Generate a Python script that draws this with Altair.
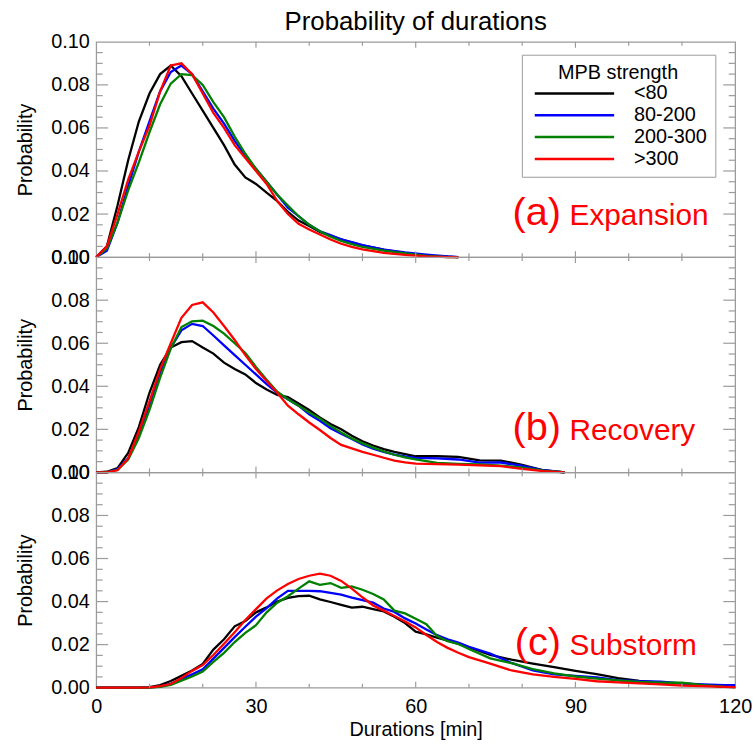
import altair as alt
import pandas as pd

FONT = "Liberation Sans"
FRAME = "#9b9b9b"
RED = "#ff0000"

# MPB strength classes and their line colours
series_names = ["<80", "80-200", "200-300", ">300"]
series_colors = ["#000000", "#0000ff", "#008000", "#ff0000"]

# ---------------- (a) Expansion ----------------
minutes_a = [0, 2, 4, 6, 8, 10, 12, 14, 16, 18, 20, 22, 24, 26, 28, 30, 32, 34, 36, 38,
             40, 42, 44, 46, 48, 50, 54, 58, 62, 66, 68]
exp_lt80 = [0.0, 0.005, 0.024, 0.045, 0.063, 0.076, 0.085, 0.089, 0.084, 0.076, 0.068,
            0.060, 0.052, 0.043, 0.037, 0.034, 0.030, 0.026, 0.021, 0.017, 0.0145,
            0.0117, 0.0098, 0.0083, 0.0068, 0.0055, 0.0035, 0.0018, 0.0006, 0.0002, 0.0]
exp_80_200 = [0.0, 0.003, 0.016, 0.033, 0.049, 0.063, 0.077, 0.086, 0.089, 0.085, 0.077,
              0.069, 0.062, 0.054, 0.047, 0.041, 0.035, 0.029, 0.023, 0.019, 0.015,
              0.012, 0.0102, 0.0083, 0.007, 0.0056, 0.0035, 0.0022, 0.0012, 0.0003, 0.0]
exp_200_300 = [0.0, 0.004, 0.016, 0.031, 0.044, 0.058, 0.071, 0.0806, 0.085, 0.0845, 0.080,
               0.072, 0.065, 0.056, 0.048, 0.041, 0.035, 0.029, 0.024, 0.019, 0.015,
               0.012, 0.0095, 0.0075, 0.006, 0.0047, 0.003, 0.0017, 0.0006, 0.0, 0.0]
exp_gt300 = [0.0, 0.005, 0.020, 0.036, 0.049, 0.061, 0.077, 0.089, 0.090, 0.085, 0.076,
             0.067, 0.060, 0.052, 0.046, 0.040, 0.034, 0.026, 0.020, 0.0155, 0.0128,
             0.0105, 0.0082, 0.0062, 0.0048, 0.0036, 0.002, 0.001, 0.0003, 0.0, 0.0]

# ---------------- (b) Recovery ----------------
minutes_b = [0, 2, 4, 6, 8, 10, 12, 14, 16, 18, 20, 22, 24, 26, 28, 30, 32, 34, 36, 38,
             40, 42, 44, 46, 48, 50, 52, 54, 56, 58, 60, 64, 68, 72, 76, 80, 84, 88]
rec_lt80 = [0.0, 0.0003, 0.002, 0.009, 0.021, 0.037, 0.050, 0.058, 0.0605, 0.061, 0.058,
            0.0552, 0.051, 0.048, 0.0455, 0.0415, 0.0385, 0.036, 0.035, 0.032, 0.029,
            0.0255, 0.0225, 0.020, 0.017, 0.0145, 0.0125, 0.0108, 0.0095, 0.0085, 0.0075,
            0.0075, 0.0072, 0.0056, 0.0055, 0.0035, 0.001, 0.0]
rec_80_200 = [0.0, 0.0, 0.0015, 0.0065, 0.017, 0.031, 0.046, 0.058, 0.066, 0.069, 0.068,
              0.0636, 0.059, 0.0545, 0.050, 0.0455, 0.041, 0.037, 0.034, 0.031, 0.027,
              0.024, 0.0205, 0.018, 0.0155, 0.013, 0.011, 0.0095, 0.0083, 0.0074, 0.0067,
              0.0065, 0.006, 0.0045, 0.0046, 0.003, 0.001, 0.0]
rec_200_300 = [0.0, 0.0, 0.0012, 0.006, 0.016, 0.029, 0.044, 0.0575, 0.0675, 0.0702, 0.0705,
               0.068, 0.0645, 0.060, 0.0555, 0.049, 0.043, 0.0375, 0.034, 0.031, 0.0278,
               0.025, 0.0215, 0.0185, 0.0158, 0.0135, 0.0115, 0.0097, 0.0082, 0.007, 0.006,
               0.0044, 0.004, 0.0037, 0.0032, 0.0022, 0.0008, 0.0]
rec_gt300 = [0.0, 0.0, 0.001, 0.0065, 0.019, 0.033, 0.048, 0.060, 0.0718, 0.0778, 0.079,
             0.0743, 0.068, 0.0615, 0.0545, 0.048, 0.0425, 0.037, 0.031, 0.027, 0.0232,
             0.0197, 0.016, 0.0128, 0.0112, 0.0095, 0.0082, 0.0068, 0.0055, 0.0047, 0.0041,
             0.0038, 0.0036, 0.0033, 0.0029, 0.0016, 0.0006, 0.0]

# ---------------- (c) Substorm ----------------
minutes_c = [0, 4, 8, 10, 12, 14, 16, 18, 20, 22, 24, 26, 28, 30, 32, 34, 36, 38, 40, 42,
             44, 46, 48, 50, 52, 54, 56, 58, 60, 62, 64, 66, 68, 70, 74, 78, 82, 86, 90,
             94, 98, 102, 106, 110, 114, 118, 120]
sub_lt80 = [0.0, 0.0, 0.0, 0.0003, 0.0012, 0.0031, 0.0055, 0.008, 0.011, 0.0177, 0.0225,
            0.0285, 0.031, 0.035, 0.0373, 0.040, 0.0417, 0.0425, 0.0427, 0.041, 0.0398,
            0.0385, 0.0372, 0.0376, 0.0365, 0.0354, 0.033, 0.030, 0.026, 0.0248, 0.0232,
            0.0218, 0.0203, 0.0188, 0.0152, 0.013, 0.0112, 0.0095, 0.0078, 0.0063, 0.0045,
            0.0032, 0.0023, 0.002, 0.0012, 0.0005, 0.0003]
sub_80_200 = [0.0, 0.0, 0.0, 0.0001, 0.0005, 0.0018, 0.004, 0.0062, 0.0085, 0.0135, 0.0185,
              0.0235, 0.0283, 0.033, 0.037, 0.0415, 0.045, 0.045, 0.045, 0.0448, 0.044,
              0.0432, 0.0418, 0.0407, 0.0395, 0.0368, 0.0352, 0.0322, 0.0298, 0.027, 0.0244,
              0.0225, 0.021, 0.019, 0.0158, 0.0115, 0.008, 0.0062, 0.0055, 0.0048, 0.0035,
              0.003, 0.0028, 0.002, 0.0015, 0.0012, 0.0012]
sub_200_300 = [0.0, 0.0, 0.0, 0.0, 0.0004, 0.0013, 0.0032, 0.0052, 0.0075, 0.012, 0.0162,
               0.0212, 0.0255, 0.029, 0.035, 0.0395, 0.0425, 0.046, 0.0494, 0.0478, 0.0486,
               0.0464, 0.047, 0.0455, 0.0435, 0.041, 0.0358, 0.0345, 0.032, 0.0295, 0.024,
               0.0216, 0.0203, 0.018, 0.0136, 0.0114, 0.0086, 0.0066, 0.0052, 0.0042, 0.0034,
               0.0027, 0.0023, 0.0023, 0.0012, 0.0004, 0.0003]
sub_gt300 = [0.0, 0.0, 0.0, 0.0002, 0.0007, 0.0017, 0.0045, 0.0078, 0.0105, 0.0152, 0.0204,
             0.0258, 0.0314, 0.0365, 0.0415, 0.0452, 0.0482, 0.0505, 0.052, 0.053, 0.052,
             0.0496, 0.046, 0.042, 0.0382, 0.0358, 0.0333, 0.0308, 0.028, 0.0245, 0.0212,
             0.0185, 0.0162, 0.0142, 0.0112, 0.008, 0.0062, 0.005, 0.0041, 0.003, 0.0025,
             0.002, 0.0015, 0.001, 0.0007, 0.0004, 0.0003]

panel_tags = ["(a)", "(b)", "(c)"]
panel_names = ["Expansion", "Recovery", "Substorm"]

# axis tick positions (frame ticks point inward on all four sides)
y_label_values = [0.0, 0.02, 0.04, 0.06, 0.08, 0.10]
y_major_ticks = [0.02, 0.04, 0.06, 0.08]
y_minor_ticks = [0.005, 0.01, 0.015, 0.025, 0.03, 0.035, 0.045, 0.05, 0.055,
                 0.065, 0.07, 0.075, 0.085, 0.09, 0.095]
x_label_values = [0, 30, 60, 90, 120]
x_major_ticks = [30, 60, 90]
x_minor_ticks = [10, 20, 40, 50, 70, 80, 100, 110]

W, H = 644, 217

x_scale = alt.Scale(domain=[0, 120], nice=False, zero=False)
y_scale = alt.Scale(domain=[0, 0.1], nice=False)

y_axis = alt.Axis(values=y_label_values, format=".2f", grid=False, domain=False,
                  ticks=False, labelPadding=7, labelFontSize=20, labelFont=FONT,
                  labelColor="black", labelFlush=False, labelOverlap=False,
                  title="Probability", titleFont=FONT, titleFontSize=20,
                  titleFontWeight="normal", titleColor="black", titlePadding=15)
x_axis = alt.Axis(values=x_label_values, format="d", grid=False, domain=False,
                  ticks=False, labelPadding=9, labelFontSize=20, labelFont=FONT,
                  labelColor="black", labelFlush=False, labelOverlap=False,
                  title="Durations [min]", titleFont=FONT, titleFontSize=20,
                  titleFontWeight="normal", titleColor="black", titlePadding=3)

color_enc = alt.Color(
    "series:N",
    scale=alt.Scale(domain=series_names, range=series_colors),
    sort=series_names,
    legend=alt.Legend(
        title="MPB strength", orient="none", legendX=429, legendY=13,
        titleFont=FONT, titleFontSize=20, titleFontWeight="normal", titleColor="black",
        titleAnchor="middle", titlePadding=1,
        labelFont=FONT, labelFontSize=20, labelColor="black",
        symbolType="M-8,0H8", symbolSize=100, symbolStrokeWidth=2.5,
        symbolOffset=35, labelOffset=50, rowPadding=2,
        strokeColor=FRAME, fillColor="white", padding=8,
    ),
)


def edge_ticks(values, length, field, side, xaxis):
    """Short inward rules drawn along one edge of the panel frame."""
    df = pd.DataFrame({field: values})
    base = alt.Chart(df).mark_rule(color=FRAME, strokeWidth=1.2)
    if field == "p":
        y = alt.Y("p:Q", scale=y_scale, axis=y_axis)
        if side == "left":
            return base.encode(y=y, x=alt.value(0), x2=alt.value(length))
        return base.encode(y=y, x=alt.value(W), x2=alt.value(W - length))
    x = alt.X("t:Q", scale=x_scale, axis=xaxis)
    if side == "bottom":
        return base.encode(x=x, y=alt.value(H), y2=alt.value(H - length))
    return base.encode(x=x, y=alt.value(0), y2=alt.value(length))


def panel(minutes, curves, tag, name, show_x):
    rows = []
    for s, vals in zip(series_names, curves):
        for t, p in zip(minutes, vals):
            rows.append({"t": t, "p": p, "series": s})
    df = pd.DataFrame(rows)
    xaxis = x_axis if show_x else None
    x_enc = alt.X("t:Q", scale=x_scale, axis=xaxis)
    y_enc = alt.Y("p:Q", scale=y_scale, axis=y_axis)

    lines = alt.Chart(df).mark_line(strokeWidth=2.3).encode(
        x=x_enc, y=y_enc, color=color_enc)

    one = pd.DataFrame({"tag": [tag], "name": [name]})
    tag_text = alt.Chart(one).mark_text(
        align="right", baseline="alphabetic", font=FONT, fontSize=40, color=RED
    ).encode(x=alt.datum(87.3), y=alt.datum(0.015), text="tag:N")
    name_text = alt.Chart(one).mark_text(
        align="left", baseline="alphabetic", font=FONT, fontSize=30, color=RED
    ).encode(x=alt.datum(88.9), y=alt.datum(0.015), text="name:N")

    ticks = [
        edge_ticks(y_major_ticks, 12, "p", "left", xaxis),
        edge_ticks(y_minor_ticks, 6.5, "p", "left", xaxis),
        edge_ticks(y_major_ticks, 12, "p", "right", xaxis),
        edge_ticks(y_minor_ticks, 6.5, "p", "right", xaxis),
        edge_ticks(x_major_ticks, 6, "t", "bottom", xaxis),
        edge_ticks(x_minor_ticks, 4, "t", "bottom", xaxis),
        edge_ticks(x_major_ticks, 6, "t", "top", xaxis),
        edge_ticks(x_minor_ticks, 4, "t", "top", xaxis),
    ]
    return alt.layer(lines, *ticks, tag_text, name_text).properties(width=W, height=H)


pa = panel(minutes_a, [exp_lt80, exp_80_200, exp_200_300, exp_gt300],
           panel_tags[0], panel_names[0], False)
pb = panel(minutes_b, [rec_lt80, rec_80_200, rec_200_300, rec_gt300],
           panel_tags[1], panel_names[1], False)
pc = panel(minutes_c, [sub_lt80, sub_80_200, sub_200_300, sub_gt300],
           panel_tags[2], panel_names[2], True)

chart = (
    alt.vconcat(pa, pb, pc, spacing=0, bounds="flush")
    .resolve_scale(color="shared")
    .properties(
        title=alt.TitleParams("Probability of durations", font=FONT, fontSize=26,
                              fontWeight="normal", color="black", anchor="middle",
                              frame="group", offset=-4),
        padding={"left": 15, "top": 6, "right": 3, "bottom": 52},
        background="white",
    )
    .configure_view(stroke=FRAME, strokeWidth=1.3)
)

chart.save("out.html", embed_options={"renderer": "svg", "actions": False})
